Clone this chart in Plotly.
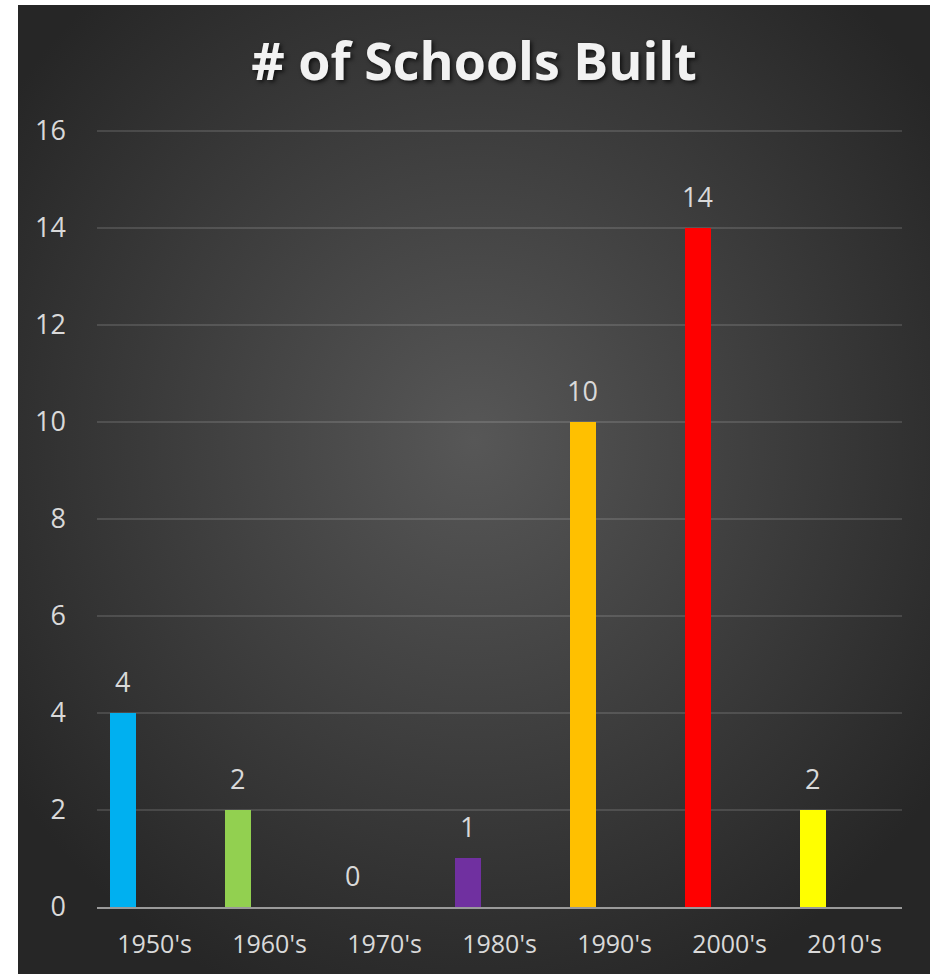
import base64
import plotly.graph_objects as go

# ---- data ----
decades = ["1950's", "1960's", "1970's", "1980's", "1990's", "2000's", "2010's"]
schools_built = [4, 2, 0, 1, 10, 14, 2]
bar_colors = ["#00B0F0", "#92D050", "#7F7F7F", "#7030A0", "#FFC000", "#FF0000", "#FFFF00"]
y_ticks = [0, 2, 4, 6, 8, 10, 12, 14, 16]
title_text = "# of Schools Built"

# ---- layout geometry ----
W, H = 930, 974
Y_MAX = 16.1
ML, MR, MT, MB = 97, 28, 126, 67
PW, PH = W - ML - MR, H - MT - MB
BAR_OFFSET = -0.387
BAR_WIDTH = 0.222

svg = '''<svg xmlns="http://www.w3.org/2000/svg" width="912" height="969" viewBox="0 0 912 969" preserveAspectRatio="none">
<defs><radialGradient id="g" cx="50%" cy="45%" r="62%">
<stop offset="0%" stop-color="#575757"/>
<stop offset="55%" stop-color="#3c3c3c"/>
<stop offset="100%" stop-color="#262626"/>
</radialGradient></defs>
<rect width="912" height="969" fill="url(#g)"/></svg>'''
bg_uri = "data:image/svg+xml;base64," + base64.b64encode(svg.encode()).decode()

fig = go.Figure()
fig.add_trace(go.Bar(
    x=decades,
    y=schools_built,
    marker=dict(color=bar_colors, line=dict(width=0)),
    offset=BAR_OFFSET,
    width=BAR_WIDTH,
    hoverinfo="x+y",
    showlegend=False,
))

annotations = []
for i, v in enumerate(schools_built):
    annotations.append(dict(
        x=i + BAR_OFFSET + BAR_WIDTH / 2, y=v, xref="x", yref="y",
        text=str(v), showarrow=False, yanchor="bottom", yshift=11,
        font=dict(family="Open Sans", size=27, color="#d9d9d9"),
    ))

left_px, top_px = 18, 5
fig.update_layout(
    width=W, height=H,
    margin=dict(l=ML, r=MR, t=MT, b=MB),
    paper_bgcolor="white",
    plot_bgcolor="rgba(0,0,0,0)",
    images=[dict(
        source=bg_uri, xref="paper", yref="paper",
        x=(left_px - ML) / PW, y=(H - MB - top_px) / PH,
        sizex=(W - left_px) / PW, sizey=(H - top_px) / PH,
        xanchor="left", yanchor="top", sizing="stretch", layer="below",
    )],
    title=dict(
        text=title_text,
        x=((left_px + W) / 2 - ML) / PW, xref="paper", xanchor="center",
        y=1 - 62 / H, yref="container", yanchor="middle",
        font=dict(family="Open Sans", size=52, color="#f2f2f2", weight="bold",
                  shadow="2px 2px 4px rgba(0,0,0,0.7)"),
    ),
    xaxis=dict(
        type="category", range=[-0.5, len(decades) - 0.5],
        showgrid=False, showline=True, linecolor="#9a9a9a", linewidth=2,
        ticks="", ticklabelstandoff=14,
        tickfont=dict(family="Open Sans", size=25, color="#d9d9d9"),
        fixedrange=True,
    ),
    yaxis=dict(
        range=[0, Y_MAX], tickvals=y_ticks,
        showgrid=True, gridcolor="rgba(255,255,255,0.13)", gridwidth=1.5,
        zeroline=False, showline=False, ticks="", ticklabelstandoff=30,
        tickfont=dict(family="Open Sans", size=27, color="#d9d9d9"),
    ),
    annotations=annotations,
    bargap=0,
)

fig.write_html(
    "out.html",
    config={"displayModeBar": False},
    post_script="document.body.style.margin='0';document.body.style.overflow='hidden';",
)
